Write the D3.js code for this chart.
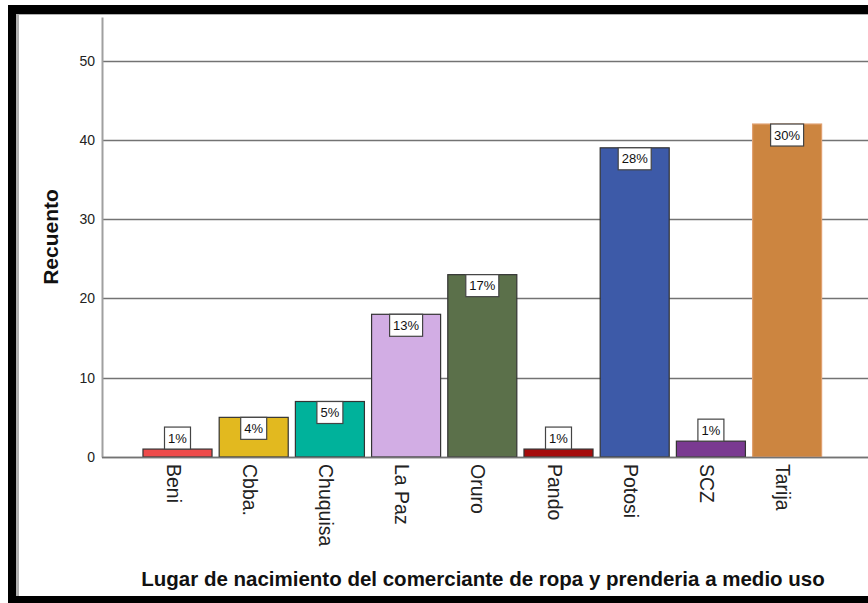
<!DOCTYPE html>
<html>
<head>
<meta charset="utf-8">
<script src="https://cdn.jsdelivr.net/npm/d3@7"></script>
<style>
  body { margin: 0; background: #fff; }
  svg { display: block; font-family: Arial, "Liberation Sans", sans-serif; }
</style>
</head>
<body>
<div id="chart"></div>
<script>
var width = 868;
var height = 603;

var categories = ['Beni', 'Cbba.', 'Chuquisa', 'La Paz', 'Oruro', 'Pando', 'Potosi', 'SCZ', 'Tarija'];
var counts = [1, 5, 7, 18, 23, 1, 39, 2, 42];
var percents = ['1%', '4%', '5%', '13%', '17%', '1%', '28%', '1%', '30%'];
var colors = ['#ee4b4b', '#e2b91f', '#00b29b', '#d2ade4', '#5b704a', '#a50b0b', '#3d5aa8', '#7a3a91', '#cc8540'];
var yTicks = [0, 10, 20, 30, 40, 50];

var data = categories.map(function(c, i){
  return {name: c, value: counts[i], pct: percents[i], color: colors[i]};
});

var svg = d3.select('#chart')
  .append('svg')
  .attr('width', width)
  .attr('height', height);

// frame (black border on top, left, bottom)
svg.append('rect').attr('x', 8).attr('y', 5).attr('width', width - 8).attr('height', 9).attr('fill', '#000');
svg.append('rect').attr('x', 8).attr('y', 5).attr('width', 8).attr('height', height - 5).attr('fill', '#000');
svg.append('rect').attr('x', 8).attr('y', 596).attr('width', width - 8).attr('height', 7).attr('fill', '#000');
svg.append('rect').attr('x', 16).attr('y', 14).attr('width', 3).attr('height', 582).attr('fill', '#b0b0b0');
svg.append('rect').attr('x', 16).attr('y', 14).attr('width', width - 16).attr('height', 1).attr('fill', '#b0b0b0');

var axisX = 102;
var y0 = 457;

//scales
var yScale = d3.scaleLinear().domain([0, 55.5]).range([y0, 17]);
var xScale = d3.scaleBand()
  .domain(categories)
  .range([139.4, 825.2])
  .paddingInner(0.094)
  .paddingOuter(0.047);

// grid lines
svg.append('g')
  .selectAll('line')
  .data(yTicks)
  .enter()
  .append('line')
  .attr('x1', axisX)
  .attr('x2', width)
  .attr('y1', function(d){ return Math.round(yScale(d)) + 0.5; })
  .attr('y2', function(d){ return Math.round(yScale(d)) + 0.5; })
  .attr('stroke', '#737373')
  .attr('stroke-width', 1.5);

// y axis
var yAxis = d3.axisLeft(yScale).tickValues(yTicks).tickSize(0).tickPadding(7);
var gy = svg.append('g')
  .attr('transform', 'translate(' + axisX + ',0)')
  .call(yAxis);
gy.select('.domain').attr('stroke', '#a0a0a0').attr('stroke-width', 2);
gy.selectAll('text').style('font-size', '14px').attr('fill', '#222');

// bars
svg.append('g')
  .selectAll('rect')
  .data(data)
  .enter()
  .append('rect')
  .attr('x', function(d){ return xScale(d.name); })
  .attr('y', function(d){ return yScale(d.value); })
  .attr('width', xScale.bandwidth())
  .attr('height', function(d){ return y0 - yScale(d.value); })
  .attr('fill', function(d){ return d.color; })
  .attr('stroke', function(d){ return d.name == 'Tarija' ? '#e0a070' : '#333'; })
  .attr('stroke-width', 1.2);

// percent labels
var boxH = 22;
var labels = svg.append('g')
  .selectAll('g')
  .data(data)
  .enter()
  .append('g')
  .attr('transform', function(d){
    var top = yScale(d.value);
    var by = (y0 - top) < boxH + 2 ? top - boxH : top;
    return 'translate(' + (xScale(d.name) + xScale.bandwidth() / 2) + ',' + by + ')';
  });
labels.append('rect')
  .attr('x', function(d){ return d.pct.length > 2 ? -16.5 : -13; })
  .attr('y', 0)
  .attr('width', function(d){ return d.pct.length > 2 ? 33 : 26; })
  .attr('height', boxH)
  .attr('fill', '#fff')
  .attr('stroke', '#444')
  .attr('stroke-width', 1.2);
labels.append('text')
  .text(function(d){ return d.pct; })
  .attr('text-anchor', 'middle')
  .attr('y', 15.5)
  .style('font-size', '13px')
  .attr('fill', '#111');

// x axis baseline
svg.append('line')
  .attr('x1', axisX).attr('x2', width)
  .attr('y1', y0 + 0.5).attr('y2', y0 + 0.5)
  .attr('stroke', '#737373').attr('stroke-width', 1.5);

// x category labels rotated
svg.append('g')
  .selectAll('text')
  .data(categories)
  .enter()
  .append('text')
  .text(function(d){ return d; })
  .attr('transform', function(d){
    return 'translate(' + (xScale(d) + xScale.bandwidth() / 2 - 11) + ',' + (y0 + 7) + ')rotate(90)';
  })
  .style('font-size', '19.5px')
  .attr('fill', '#222');

// axis titles
svg.append('text')
  .text('Lugar de nacimiento del comerciante de ropa y prenderia a medio uso')
  .attr('text-anchor', 'middle')
  .attr('x', 483)
  .attr('y', 586)
  .style('font-size', '20.5px')
  .style('font-weight', 'bold')
  .attr('fill', '#111');
svg.append('text')
  .text('Recuento')
  .attr('text-anchor', 'middle')
  .attr('transform', 'translate(58,237)rotate(-90)')
  .style('font-size', '21px')
  .style('font-weight', 'bold')
  .attr('fill', '#111');
</script>
</body>
</html>
